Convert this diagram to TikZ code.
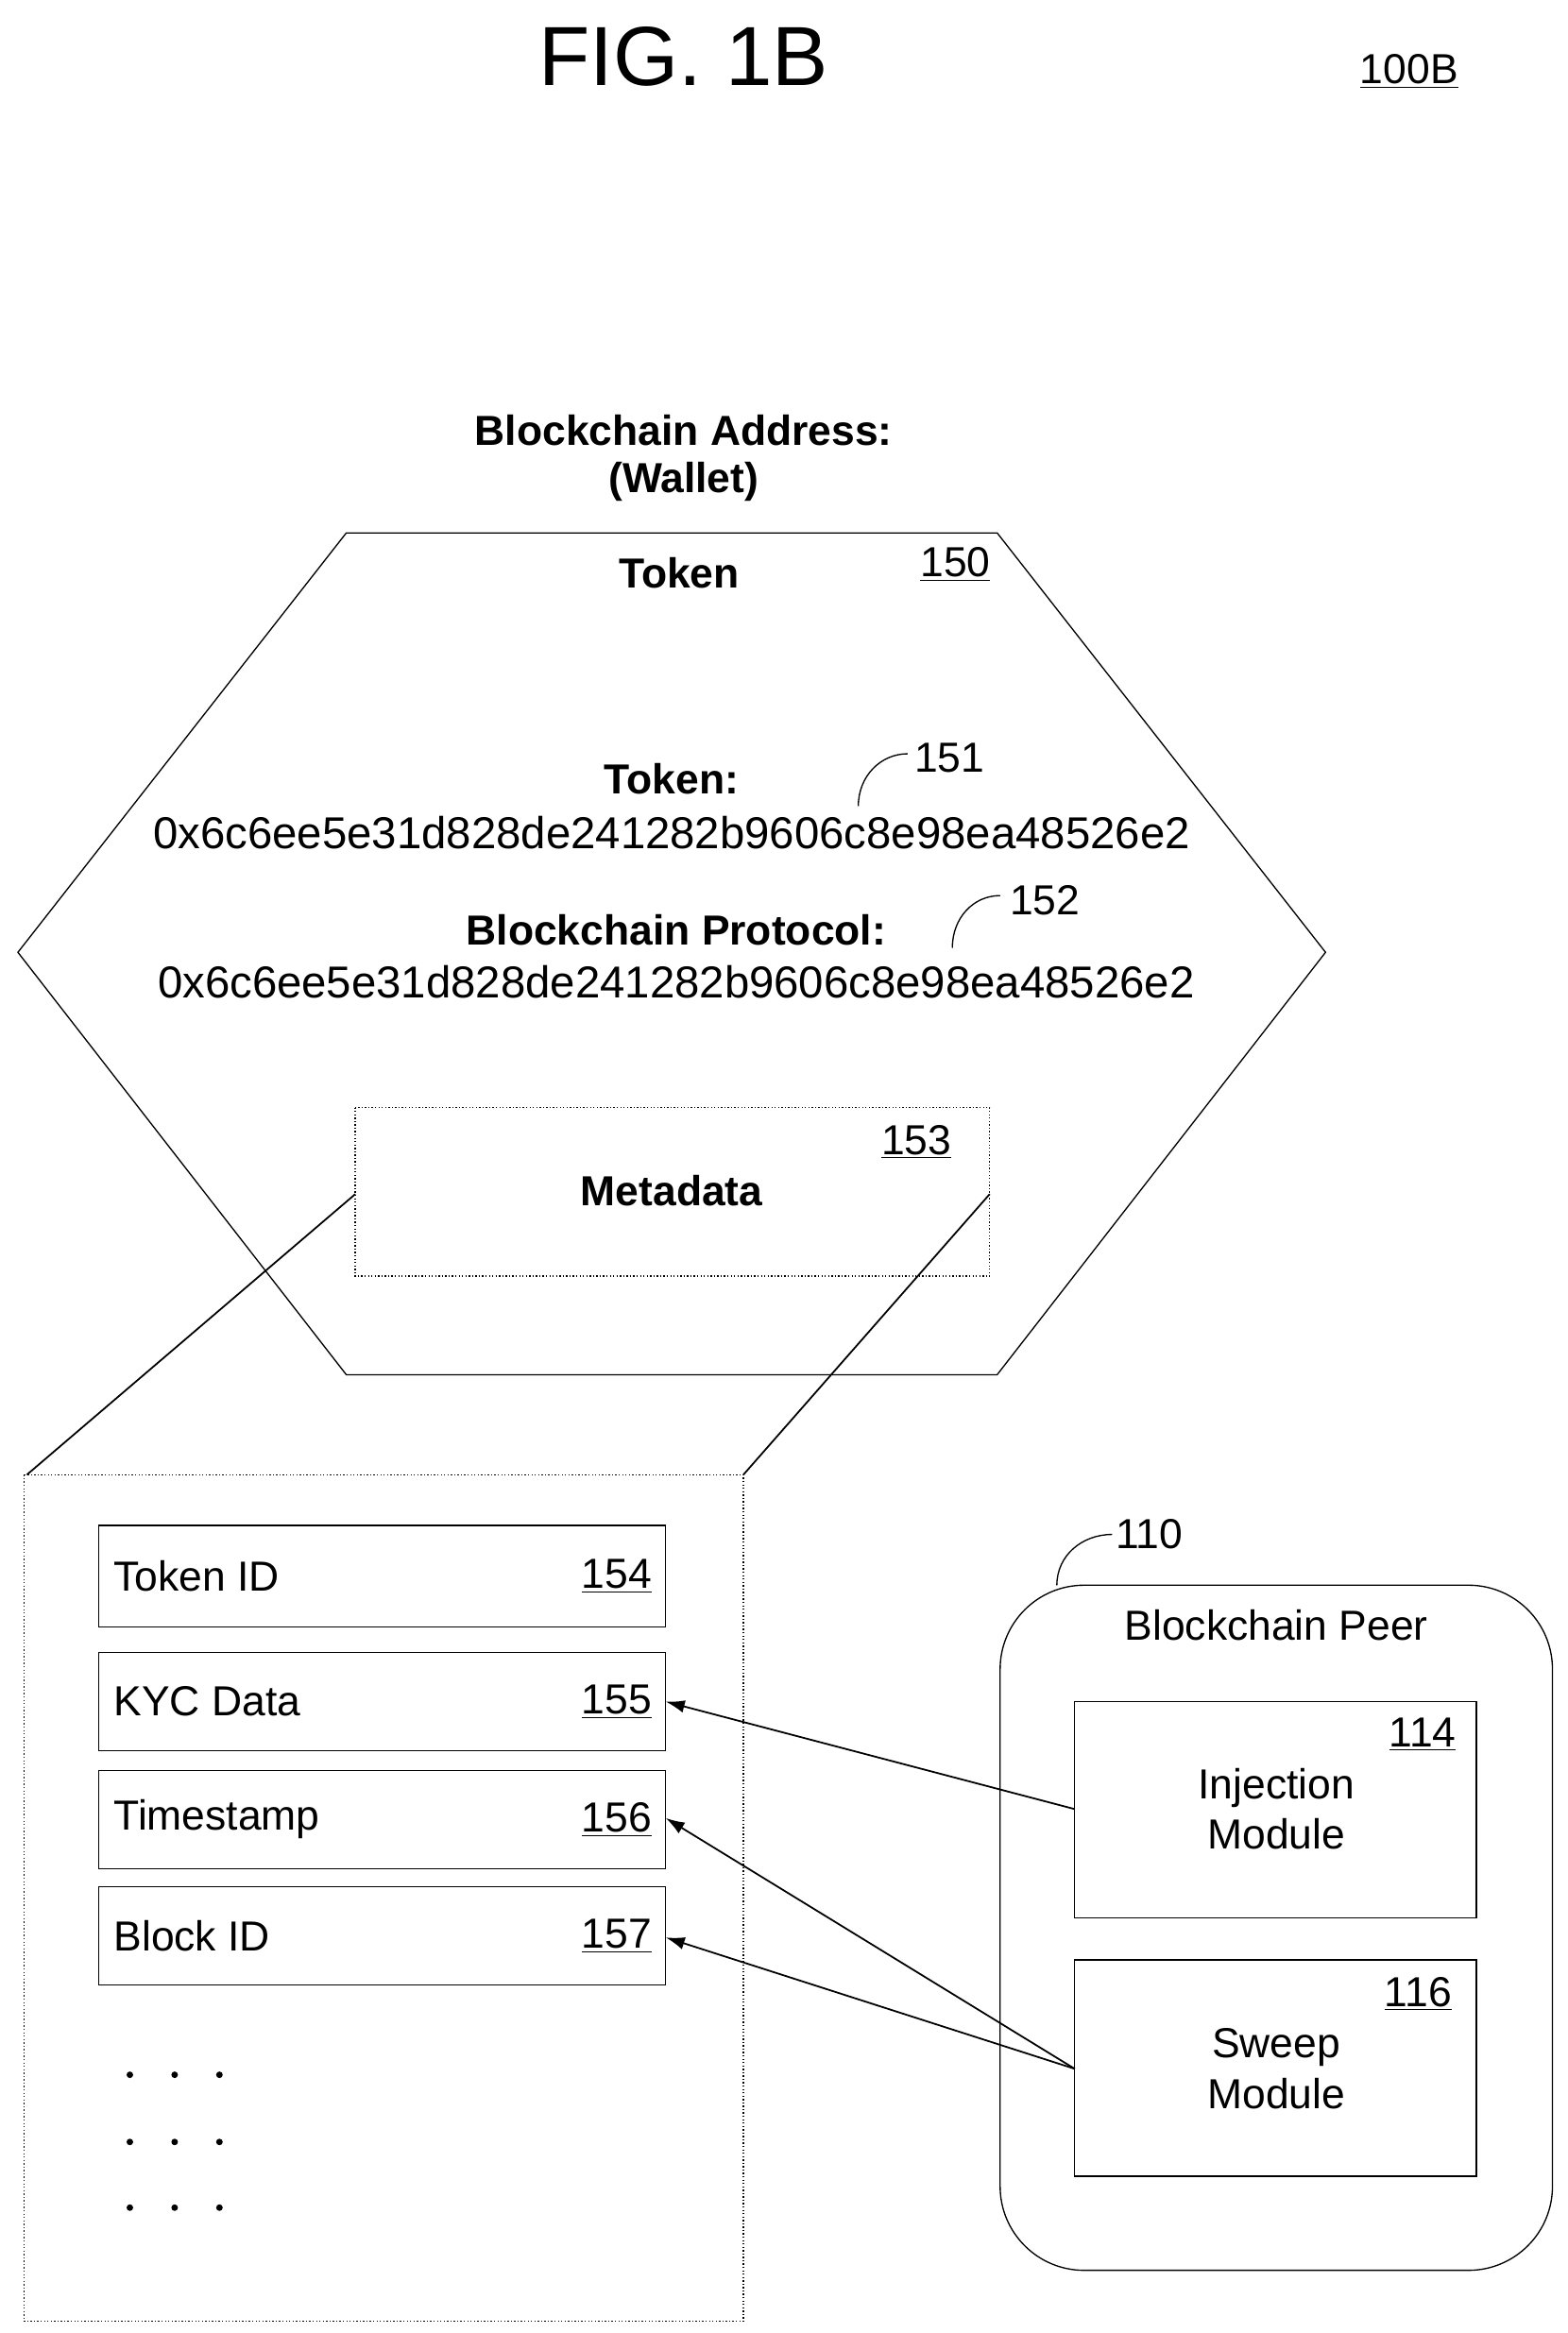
\documentclass[tikz,border=0pt]{standalone}
\usepackage{fontspec}
\setmainfont{Liberation Sans}
\usetikzlibrary{arrows.meta}
\begin{document}
\begin{tikzpicture}[x=0.025cm,y=-0.025cm,
 t/.style={font=\fontsize{20}{24}\selectfont,inner sep=0pt},
 h/.style={font=\fontsize{21.3}{25}\selectfont,inner sep=0pt},
 b/.style={t,font=\fontsize{20}{24}\selectfont\bfseries},
 box/.style={draw,line width=0.6pt},
 dot/.style={draw,line width=0.6pt,densely dotted},
 arr/.style={-{Latex[length=9pt,width=6pt]},line width=0.8pt}]
\useasboundingbox (0,0) rectangle (1050,1563);
\node[t,font=\fontsize{40}{48}\selectfont] (fig) at (458,38) {FIG. 1B};
\node[t] (n100) at (944,48) {\underline{100B}};
\node[b] (ba) at (458,288) {Blockchain Address:};
\node[b] (wal) at (458,323) {(Wallet)};
\draw[line width=0.6pt] (232,357)--(668,357)--(888,638)--(668,921)--(232,921)--(12,638)--cycle;
\node[b] (tok) at (455,384) {Token};
\node[t] (n150) at (640,378) {\underline{150}};
\node[b] (tk) at (450,522) {Token:};
\node[h] (tks) at (450,558) {0x6c6ee5e31d828de241282b9606c8e98ea48526e2};
\node[t] (n151) at (636,508) {151};
\draw[line width=0.6pt] (575,540) .. controls (575,520) and (590,505) .. (608,505);
\node[b] (bp) at (453,623) {Blockchain Protocol:};
\node[h] (bps) at (453,658) {0x6c6ee5e31d828de241282b9606c8e98ea48526e2};
\node[t] (n152) at (700,603) {152};
\draw[line width=0.6pt] (638,635) .. controls (638,615) and (652,600) .. (670,600);
\draw[dot] (238,742) rectangle (663,855);
\node[t] (n153) at (614,765) {\underline{153}};
\node[b] (meta) at (450,798) {Metadata};
\coordinate (m1) at (238,800); \coordinate (m2) at (663,800);
\coordinate (c1) at (18,988); \coordinate (c2) at (498,988);
\draw[line width=0.8pt] (m1)--(c1) (m2)--(c2);
\draw[dot] (16,988) rectangle (498,1555);
\foreach \ya/\yb/\lab/\num in {1022/1090/Token ID/154,1107/1173/KYC Data/155,1186/1252/Timestamp/156,1264/1330/Block ID/157}{
 \draw[box] (66,\ya) rectangle (446,\yb);
 \node[t,anchor=west] at (76,{(\ya+\yb)/2}) {\lab};
 \node[t,anchor=east] at (437,{(\ya+\yb)/2}) {\underline{\num}};
}
\coordinate (k) at (446,1140); \coordinate (ts) at (446,1218); \coordinate (bi) at (446,1298);
\foreach \yy in {1390,1435,1479}\foreach \xx in {87,117,147}\fill (\xx,\yy) circle (2.2);
\draw[box,rounded corners=40] (670,1062) rectangle (1040,1521);
\node[t] (n110) at (770,1028) {110};
\draw[line width=0.6pt] (708,1062) .. controls (708,1042) and (725,1028) .. (745,1028);
\node[t] (bpeer) at (855,1089) {Blockchain Peer};
\draw[box] (720,1140) rectangle (989,1285);
\node[t] (n114) at (953,1162) {\underline{114}};
\node[t,align=center] (inj) at (855,1212) {Injection\\Module};
\draw[box] (720,1313) rectangle (989,1458);
\node[t] (n116) at (950,1336) {\underline{116}};
\node[t,align=center] (sw) at (855,1386) {Sweep\\Module};
\coordinate (ie) at (720,1212); \coordinate (se) at (720,1386);
\draw[arr] (ie)--(k);
\draw[arr] (se)--(ts);
\draw[arr] (se)--(bi);
\end{tikzpicture}
\end{document}
